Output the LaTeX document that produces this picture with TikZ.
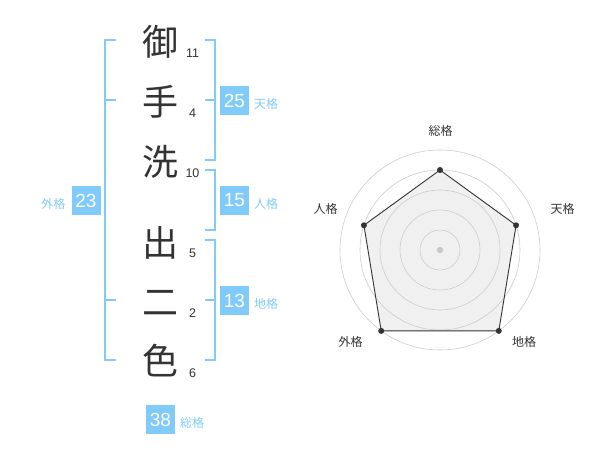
\documentclass[tikz,border=0pt]{standalone}
\usepackage{fontspec}
\setmainfont{Liberation Sans}
\newfontfamily\jp{Noto Sans CJK JP}
\definecolor{sky}{RGB}{128,203,249}
\definecolor{ink}{RGB}{51,51,51}
\definecolor{polyfill}{RGB}{240,240,240}
\begin{document}
\begin{tikzpicture}[x=1pt,y=-1pt,
 kanji/.style={font=\jp\fontsize{36}{36}\selectfont, text=ink, inner sep=0pt, text height=31.7pt, text depth=4.3pt},
 strokes/.style={font=\fontsize{12.5}{13}\selectfont, text=ink, inner sep=0pt},
 valbox/.style={fill=sky, text=white, minimum size=29pt, inner sep=0pt, font=\fontsize{19}{19}\selectfont},
 kaku/.style={text=sky, font=\jp\fontsize{12}{12}\selectfont, inner sep=0pt, text height=10.56pt, text depth=1.44pt},
 brk/.style={draw=sky, line width=2pt},
 rlabel/.style={text=ink, font=\jp\fontsize{12}{12}\selectfont, inner sep=0pt, text height=10.56pt, text depth=1.44pt},
 ring/.style={draw=black!20, line width=0.6pt},
 vdot/.style={circle, fill=ink, inner sep=0pt, minimum size=6pt}
]
\useasboundingbox (0,0) rectangle (600,470);

% characters
\node[kanji] (k1) at (160,42) {御};
\node[kanji] (k2) at (160,102) {手};
\node[kanji] (k3) at (160,162) {洗};
\node[kanji] (k4) at (160,243) {出};
\node[kanji] (k5) at (160,302) {二};
\node[kanji] (k6) at (160,361) {色};

% stroke counts
\node[strokes] (n1) at (192.5,53.5) {11};
\node[strokes] (n2) at (192.5,113.5) {4};
\node[strokes] (n3) at (192.5,173.5) {10};
\node[strokes] (n4) at (192.5,253) {5};
\node[strokes] (n5) at (192.5,313.5) {2};
\node[strokes] (n6) at (192.5,373.5) {6};

% left bracket (gaikaku)
\draw[brk] (116,40) -- (105,40) -- (105,360) -- (116,360);
\draw[brk] (105,100) -- (116,100);
\draw[brk] (105,300) -- (116,300);

% right brackets
\draw[brk] (205,40) -- (215,40) -- (215,160) -- (205,160);
\draw[brk] (205,100) -- (215,100);
\draw[brk] (205,170) -- (215,170) -- (215,230) -- (205,230);
\draw[brk] (205,240) -- (215,240) -- (215,360) -- (205,360);
\draw[brk] (205,300) -- (215,300);

% value boxes and labels
\node[valbox] (b1) at (234.5,100.5) {25};
\node[kaku, anchor=west] (l1) at (254,104) {天格};
\node[valbox] (b2) at (234.5,200.5) {15};
\node[kaku, anchor=west] (l2) at (254,204) {人格};
\node[valbox] (b3) at (234.5,300.5) {13};
\node[kaku, anchor=west] (l3) at (254,304) {地格};
\node[valbox] (b4) at (86,200.5) {23};
\node[kaku, anchor=east] (l4) at (65.5,204) {外格};
\node[valbox] (b5) at (160.5,419.5) {38};
\node[kaku, anchor=west] (l5) at (180,423) {総格};

% radar chart
\begin{scope}[shift={(440,250)}]
 \coordinate (ps) at (-90:80);
 \coordinate (pt) at (-18:80);
 \coordinate (pg) at (54:100);
 \coordinate (po) at (126:100);
 \coordinate (pj) at (198:80);
 \fill[polyfill] (ps) -- (pt) -- (pg) -- (po) -- (pj) -- cycle;
 \foreach \r in {20,40,60,80,100} {\draw[ring] (0,0) circle[radius=\r pt];}
 \fill[black!22] (0,0) circle[radius=3.2pt];
 \draw[ink, line width=0.9pt] (ps) -- (pt) -- (pg) -- (po) -- (pj) -- cycle;
 \node[vdot] (ds) at (ps) {};
 \node[vdot] (dt) at (pt) {};
 \node[vdot] (dg) at (pg) {};
 \node[vdot] (do) at (po) {};
 \node[vdot] (dj) at (pj) {};
\end{scope}
\node[rlabel] (rs) at (440.5,130.5) {総格};
\node[rlabel] (rt) at (562.5,208.5) {天格};
\node[rlabel] (rg) at (524,341.5) {地格};
\node[rlabel] (ro) at (350.5,341.5) {外格};
\node[rlabel] (rj) at (325.5,208.5) {人格};
\end{tikzpicture}
\end{document}
